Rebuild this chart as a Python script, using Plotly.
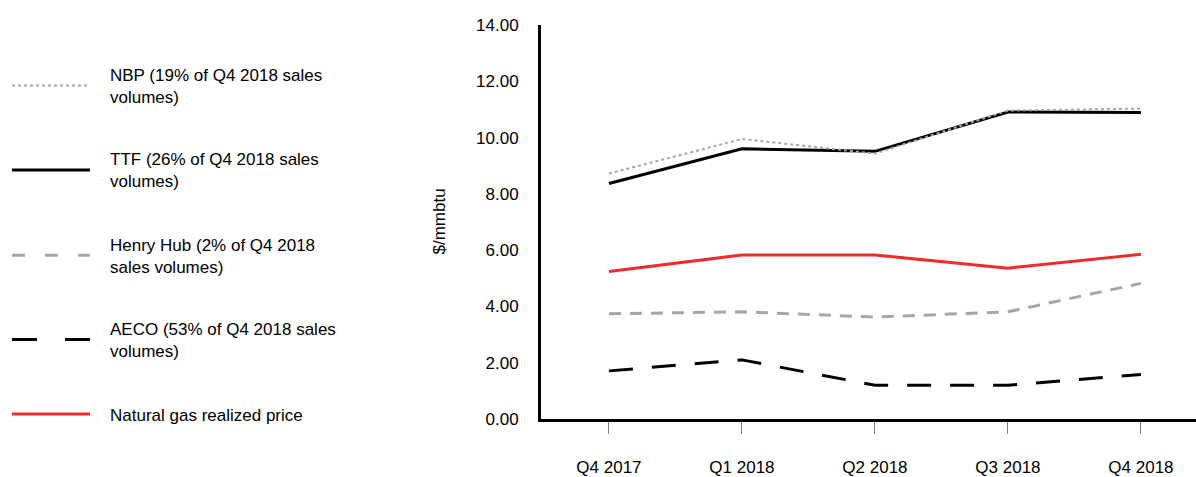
import plotly.graph_objects as go

quarters = ["Q4 2017", "Q1 2018", "Q2 2018", "Q3 2018", "Q4 2018"]
nbp = [8.72, 9.95, 9.43, 10.96, 11.03]
ttf = [8.37, 9.60, 9.51, 10.91, 10.89]
henry_hub = [3.74, 3.81, 3.62, 3.81, 4.82]
aeco = [1.71, 2.10, 1.20, 1.20, 1.58]
realized = [5.24, 5.83, 5.83, 5.36, 5.85]

y_ticks = [0, 2, 4, 6, 8, 10, 12, 14]

legend_labels = [
    "NBP (19% of Q4 2018 sales<br>volumes)",
    "TTF (26% of Q4 2018 sales<br>volumes)",
    "Henry Hub (2% of Q4 2018<br>sales volumes)",
    "AECO (53% of Q4 2018 sales<br>volumes)",
    "Natural gas realized price",
]

FONT = "Liberation Sans, Arial, sans-serif"
FS = 17
W, H = 1196, 477
TOP, BOTTOM = 25, 422
GRAY = "#a6a6a6"
RED = "#ef2b2b"

styles = {
    "nbp": dict(color=GRAY, width=2, dash="dot"),
    "ttf": dict(color="black", width=3, dash="solid"),
    "hh": dict(color=GRAY, width=3, dash="12px,9px"),
    "aeco": dict(color="black", width=3, dash="24px,19px"),
    "real": dict(color=RED, width=3, dash="solid"),
}
legend_styles = {
    "nbp": dict(color=GRAY, width=2, dash="dot"),
    "ttf": dict(color="black", width=3, dash="solid"),
    "hh": dict(color=GRAY, width=3, dash="13px,20px"),
    "aeco": dict(color="black", width=3, dash="25px,28px"),
    "real": dict(color=RED, width=3, dash="solid"),
}

fig = go.Figure()
for key, vals in [("aeco", aeco), ("hh", henry_hub), ("real", realized), ("ttf", ttf), ("nbp", nbp)]:
    fig.add_trace(go.Scatter(x=quarters, y=vals, mode="lines", line=styles[key], showlegend=False))

def px(x):
    return x / W

def py(y):
    return (BOTTOM - y) / (BOTTOM - TOP)

shapes = []
annotations = []
legend_y = [86, 171, 257, 342, 417]
for key, label, ly in zip(["nbp", "ttf", "hh", "aeco", "real"], legend_labels, legend_y):
    shapes.append(dict(type="line", xref="paper", yref="paper", x0=px(12), x1=px(90), y0=py(ly), y1=py(ly),
                       line=legend_styles[key]))
    annotations.append(dict(xref="paper", yref="paper", x=px(108), y=py(ly + 1), text=label, showarrow=False,
                            xanchor="left", yanchor="middle", align="left",
                            font=dict(family=FONT, size=FS, color="black")))

annotations.append(dict(xref="paper", yref="paper", x=px(440), y=py(223), text="$/mmbtu", showarrow=False,
                        textangle=-90, xanchor="center", yanchor="middle",
                        font=dict(family=FONT, size=FS, color="black")))

fig.update_layout(
    width=W, height=H,
    margin=dict(l=0, r=0, t=TOP, b=H - BOTTOM, pad=0),
    paper_bgcolor="white", plot_bgcolor="white",
    font=dict(family=FONT, size=FS, color="black"),
    shapes=shapes, annotations=annotations,
    xaxis=dict(domain=[541 / W, 1], type="category", categoryorder="array", categoryarray=quarters,
               range=[-0.511, 4.414], showgrid=False, zeroline=False,
               showline=True, linecolor="black", linewidth=3,
               ticks="outside", ticklen=12, tickwidth=1, tickcolor="#808080",
               ticklabelstandoff=19, tickfont=dict(family=FONT, size=FS, color="black")),
    yaxis=dict(range=[0, 14], tickvals=y_ticks, tickformat=".2f", showgrid=False, zeroline=False,
               showline=True, linecolor="black", linewidth=3, ticks="",
               ticklabelstandoff=16, tickfont=dict(family=FONT, size=FS, color="black")),
)

fig.write_html("out.html")
